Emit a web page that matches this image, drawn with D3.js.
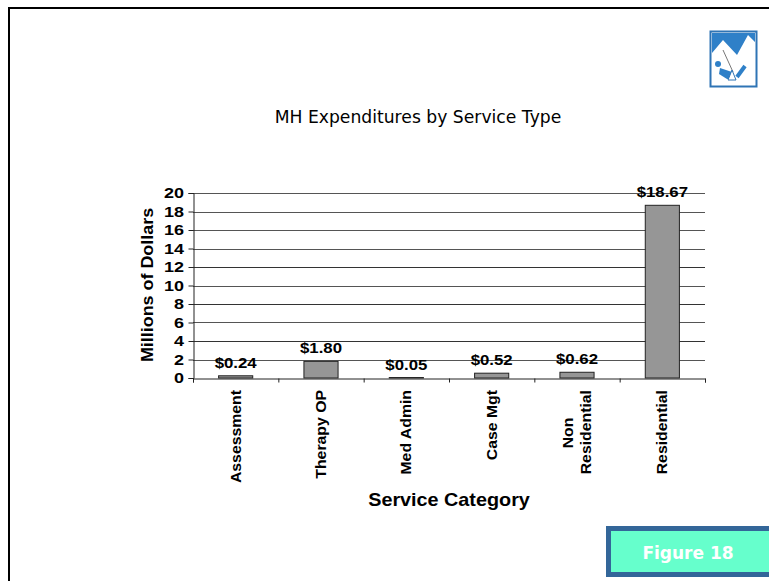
<!DOCTYPE html>
<html>
<head>
<meta charset="utf-8">
<title>MH Expenditures by Service Type</title>
<script src="https://d3js.org/d3.v7.min.js"></script>
<style>
  html, body { margin: 0; padding: 0; background: #fff; overflow: hidden; }
  svg { display: block; }
  text { font-family: "Liberation Sans", Arial, sans-serif; fill: #000; }
  .lab { font-weight: bold; font-size: 14px; }
</style>
</head>
<body>
<div id="chart"></div>
<script>
var categories = [["Assessment"], ["Therapy OP"], ["Med Admin"], ["Case Mgt"], ["Non", "Residential"], ["Residential"]];
var values = [0.24, 1.80, 0.05, 0.52, 0.62, 18.67];
var valueLabels = ["$0.24", "$1.80", "$0.05", "$0.52", "$0.62", "$18.67"];
var yTicks = [0, 2, 4, 6, 8, 10, 12, 14, 16, 18, 20];

var W = 769, H = 581;
var margin = { left: 193, right: 64, top: 193, bottom: 203 };

var svg = d3.select("#chart").append("svg").attr("width", W).attr("height", H);

// slide border, top and left only
svg.append("path")
  .attr("d", "M9,581V8H769")
  .attr("fill", "none").attr("stroke", "#000").attr("stroke-width", 2);

var x = d3.scaleBand().domain(d3.range(categories.length))
  .range([margin.left, W - margin.right]).paddingInner(0.6).paddingOuter(0.3);
var y = d3.scaleLinear().domain([0, 20]).range([H - margin.bottom, margin.top]);

svg.append("text").attr("x", 418).attr("y", 123).attr("text-anchor", "middle")
  .style("font-family", "'DejaVu Sans', Verdana, sans-serif").style("font-size", "17.2px")
  .text("MH Expenditures by Service Type");

// gridlines
svg.append("g").selectAll("line").data(yTicks.slice(1)).enter().append("line")
  .attr("x1", margin.left).attr("x2", W - margin.right)
  .attr("y1", d => Math.round(y(d)) + 0.5).attr("y2", d => Math.round(y(d)) + 0.5)
  .attr("stroke", d => (d % 4 == 0 && d != 20 && d != 16 ? "#333" : "#555"));

// y axis
var yAxis = svg.append("g").attr("transform", "translate(" + (margin.left + 0.5) + ",0)")
  .call(d3.axisLeft(y).tickValues(yTicks).tickSize(5).tickPadding(5));
yAxis.selectAll("text").attr("class", "lab").style("font-size", "15px")
  .attr("transform", "translate(-9.5,0) scale(1.2,1)").attr("x", 0);
yAxis.select(".domain").attr("stroke", "#222");
yAxis.selectAll(".tick line").attr("stroke", "#222");

// bars
svg.append("g").selectAll("rect").data(values).enter().append("rect")
  .attr("x", (d, i) => x(i)).attr("width", x.bandwidth())
  .attr("y", d => y(d)).attr("height", d => y(0) - y(d))
  .attr("fill", "#969696").attr("stroke", "#222");

// value labels, stretched a bit wider like the original
svg.append("g").selectAll("text").data(values).enter().append("text")
  .attr("class", "lab")
  .attr("transform", (d, i) => "translate(" + (x(i) + x.bandwidth() / 2) + "," + (y(d) - 8) + ") scale(1.2,1)")
  .attr("text-anchor", "middle")
  .text((d, i) => valueLabels[i]);

// x axis with ticks between the categories
var xLine = d3.scaleLinear().domain([0, categories.length]).range([margin.left, W - margin.right]);
var xAxis = svg.append("g").attr("transform", "translate(0," + (y(0) + 0.5) + ")")
  .call(d3.axisBottom(xLine).ticks(categories.length).tickSize(4).tickFormat(""));
xAxis.select(".domain").attr("stroke", "#222");
xAxis.selectAll(".tick line").attr("stroke", "#222");

// rotated category labels, anchored to their top end
var catG = svg.append("g").selectAll("g").data(categories).enter().append("g")
  .attr("transform", (d, i) => "translate(" + (x(i) + x.bandwidth() / 2) + ",390) rotate(-90) scale(1.13,1)");
catG.selectAll("text").data(d => d.map((t, j) => ({ t: t, j: j, n: d.length }))).enter().append("text")
  .attr("class", "lab")
  .attr("text-anchor", d => (d.n > 1 && d.j == 0 ? "middle" : "end"))
  .attr("x", d => (d.n > 1 && d.j == 0 ? -38 : 0))
  .attr("y", d => 5 + (d.j - (d.n - 1) / 2) * 18)
  .text(d => d.t);

svg.append("text").attr("class", "lab").style("font-size", "16px")
  .attr("transform", "translate(153,285) rotate(-90) scale(1.12,1)").attr("text-anchor", "middle")
  .text("Millions of Dollars");
svg.append("text").attr("class", "lab").style("font-size", "18px")
  .attr("transform", "translate(449,506) scale(1.1,1)").attr("text-anchor", "middle")
  .text("Service Category");

// figure tag
svg.append("rect").attr("x", 608.5).attr("y", 528.5).attr("width", 170).attr("height", 46)
  .attr("fill", "#66ffcc").attr("stroke", "#336699").attr("stroke-width", 5);
svg.append("text").attr("x", 688).attr("y", 559).attr("text-anchor", "middle")
  .style("font-family", "'DejaVu Sans', Verdana, sans-serif").style("font-weight", "bold")
  .style("font-size", "17px").style("fill", "#fff")
  .text("Figure 18");

// logo
var logo = svg.append("g").attr("transform", "translate(710,31)");
logo.append("rect").attr("x", 0.5).attr("y", 0.5).attr("width", 46).attr("height", 55)
  .attr("fill", "#fff").attr("stroke", "#2f74b5").attr("stroke-width", 2);
logo.append("path").attr("d", "M2,2H45V11L38,4L27,24L13,9L2,22Z").attr("fill", "#2f80c8");
logo.append("path").attr("d", "M13,19L23,41").attr("stroke", "#777").attr("fill", "none");
logo.append("circle").attr("cx", 8).attr("cy", 33).attr("r", 3).attr("fill", "#2f80c8");
logo.append("path").attr("d", "M10,37L22,41L23,48L17,48L9,43Z").attr("fill", "#2f80c8");
logo.append("path").attr("d", "M27,46L35,35").attr("stroke", "#2f80c8").attr("stroke-width", 4).attr("fill", "none");
logo.append("path").attr("d", "M22,39L18,49L26,49Z").attr("fill", "#fff").attr("stroke", "#2f74b5");
</script>
</body>
</html>
